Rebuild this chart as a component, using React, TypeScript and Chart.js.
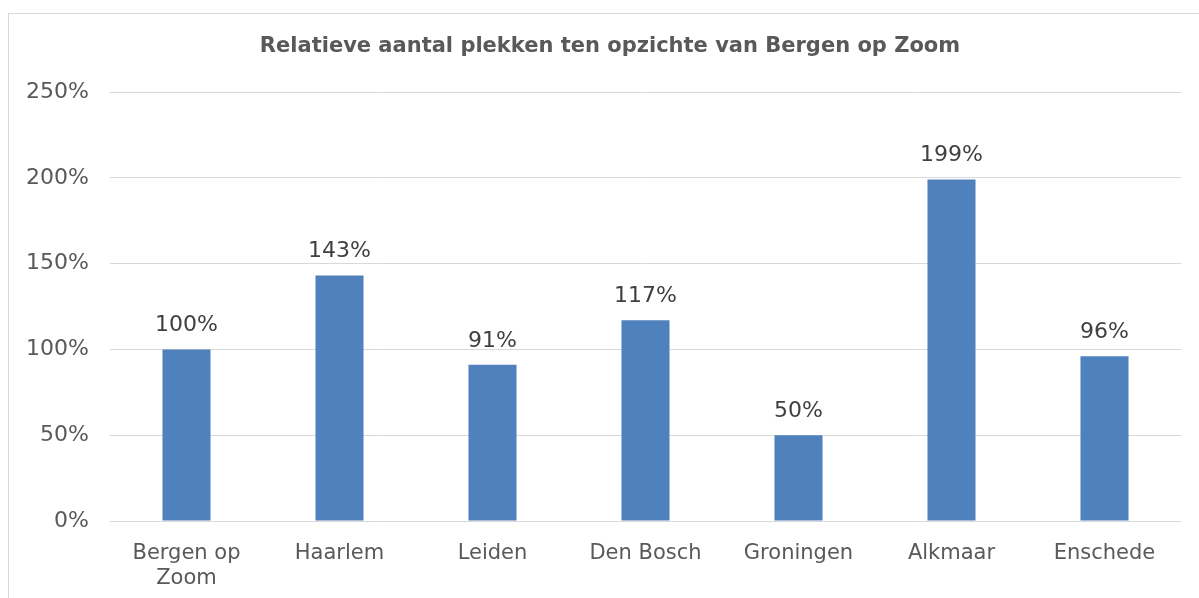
import React, { useEffect, useRef } from "react";
import { Chart, registerables } from "chart.js";

Chart.register(...registerables);

const categories: (string | string[])[] = [
  ["Bergen op", "Zoom"],
  "Haarlem",
  "Leiden",
  "Den Bosch",
  "Groningen",
  "Alkmaar",
  "Enschede",
];
const values: number[] = [1.0, 1.43, 0.91, 1.17, 0.5, 1.99, 0.96];
const yTicks: number[] = [0, 0.5, 1, 1.5, 2, 2.5];
const title = "Relatieve aantal plekken ten opzichte van Bergen op Zoom";

const FONT = "'DejaVu Sans', Verdana, sans-serif";
const TEXT = "#595959";

const labelPlugin = {
  id: "barLabels",
  afterDatasetsDraw(chart: any) {
    const ctx = chart.ctx;
    const meta = chart.getDatasetMeta(0);
    ctx.save();
    ctx.font = `22px ${FONT}`;
    ctx.fillStyle = "#404040";
    ctx.textAlign = "center";
    ctx.textBaseline = "middle";
    meta.data.forEach((bar: any, i: number) => {
      ctx.fillText(`${Math.round(values[i] * 100)}%`, bar.x, bar.y - 24);
    });
    ctx.restore();
  },
};

const titlePlugin = {
  id: "centeredTitle",
  afterDraw(chart: any) {
    const ctx = chart.ctx;
    ctx.save();
    ctx.font = `bold 21px ${FONT}`;
    ctx.fillStyle = TEXT;
    ctx.textAlign = "center";
    ctx.textBaseline = "middle";
    ctx.fillText(title, chart.width / 2, 33);
    ctx.restore();
  },
};

export default function App() {
  const ref = useRef<HTMLCanvasElement>(null);
  useEffect(() => {
    if (!ref.current) return;
    const chart = new Chart(ref.current, {
      type: "bar",
      data: {
        labels: categories,
        datasets: [
          {
            data: values,
            backgroundColor: "#4f81bd",
            categoryPercentage: 1,
            barPercentage: 0.314,
          },
        ],
      },
      options: {
        animation: false,
        responsive: false,
        maintainAspectRatio: false,
        layout: { padding: { left: 0, right: 30, top: 78, bottom: 0 } },
        plugins: {
          legend: { display: false },
          tooltip: { enabled: false },
          title: { display: false },
        },
        scales: {
          x: {
            grid: { display: false },
            border: { display: false },
            ticks: {
              color: TEXT,
              font: { family: FONT, size: 21 },
              padding: 12,
              maxRotation: 0,
              autoSkip: false,
            },
            afterFit: (s: any) => {
              s.height = 93;
            },
          },
          y: {
            min: 0,
            max: 2.5,
            border: { display: false },
            grid: { color: "#d9d9d9", lineWidth: 1, drawTicks: false },
            afterBuildTicks: (s: any) => {
              s.ticks = yTicks.map((v) => ({ value: v }));
            },
            afterFit: (s: any) => {
              s.width = 101;
            },
            ticks: {
              color: TEXT,
              font: { family: FONT, size: 22 },
              padding: 21,
              callback: (v: any) => `${Math.round(Number(v) * 100)}%`,
            },
          },
        },
      },
      plugins: [labelPlugin, titlePlugin],
    });
    return () => chart.destroy();
  }, []);

  return (
    <div
      style={{
        position: "fixed",
        left: 0,
        top: 0,
        width: 1199,
        height: 598,
        overflow: "hidden",
        background: "#fff",
      }}
    >
      <div
        style={{
          position: "absolute",
          left: 8,
          top: 13,
          width: 1202,
          height: 600,
          border: "1px solid #d9d9d9",
        }}
      >
        <canvas ref={ref} width={1202} height={600} style={{ display: "block" }} />
      </div>
    </div>
  );
}
